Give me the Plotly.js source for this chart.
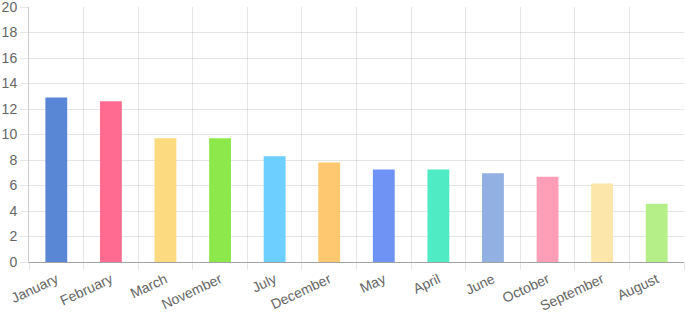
<!DOCTYPE html>
<html>
<head>
<meta charset="utf-8">
<script src="https://cdn.plot.ly/plotly-3.0.1.min.js"></script>
<style>html,body{margin:0;padding:0;background:#fff;}#chart{width:685px;height:314px;}</style>
</head>
<body>
<div id="chart"></div>
<script>
const months = ["January","February","March","November","July","December","May","April","June","October","September","August"];
const values = [12.9, 12.6, 9.7, 9.7, 8.3, 7.8, 7.25, 7.25, 6.97, 6.68, 6.15, 4.57];
const colors = ["#5A87D5","#FF6B91","#FCDA80","#8DE84B","#6CCFFF","#FEC870","#6E93F5","#4EEBC5","#93B0E2","#FF9EB7","#FCE6AA","#B4EF88"];
const yTicks = [0,2,4,6,8,10,12,14,16,18,20];

const trace = {
  type: "bar",
  x: months,
  y: values,
  width: 0.4,
  marker: {color: colors, line: {width: 0}},
  hoverinfo: "x+y"
};

const layout = {
  width: 685, height: 314,
  margin: {l: 29, r: 1, t: 7, b: 52},
  paper_bgcolor: "#fff", plot_bgcolor: "#fff",
  showlegend: false,
  font: {family: "Liberation Sans, Arial, sans-serif", size: 14, color: "#666"},
  xaxis: {
    type: "category",
    tickson: "boundaries",
    showgrid: true,
    gridcolor: "rgba(0,0,0,0.1)",
    ticks: "outside",
    ticklen: 7,
    tickcolor: "rgba(0,0,0,0.1)",
    tickangle: -25,
    ticklabelstandoff: 3,
    showline: true,
    linecolor: "rgba(0,0,0,0.2)",
    linewidth: 1,
    tickfont: {size: 14, color: "#666"},
    ticklabeloverflow: "allow",
    fixedrange: true
  },
  yaxis: {
    range: [0, 20],
    tickvals: yTicks,
    ticktext: yTicks.map(String),
    showgrid: true,
    gridcolor: "rgba(0,0,0,0.1)",
    zeroline: true,
    zerolinecolor: "rgba(0,0,0,0.2)",
    zerolinewidth: 1,
    ticks: "outside",
    ticklen: 8,
    tickcolor: "rgba(0,0,0,0.1)",
    showline: true,
    linecolor: "rgba(0,0,0,0.2)",
    linewidth: 1,
    tickfont: {size: 14, color: "#666"},
    ticklabeloverflow: "allow",
    fixedrange: true
  }
};

Plotly.newPlot("chart", [trace], layout, {displayModeBar: false, staticPlot: true});
</script>
</body>
</html>
